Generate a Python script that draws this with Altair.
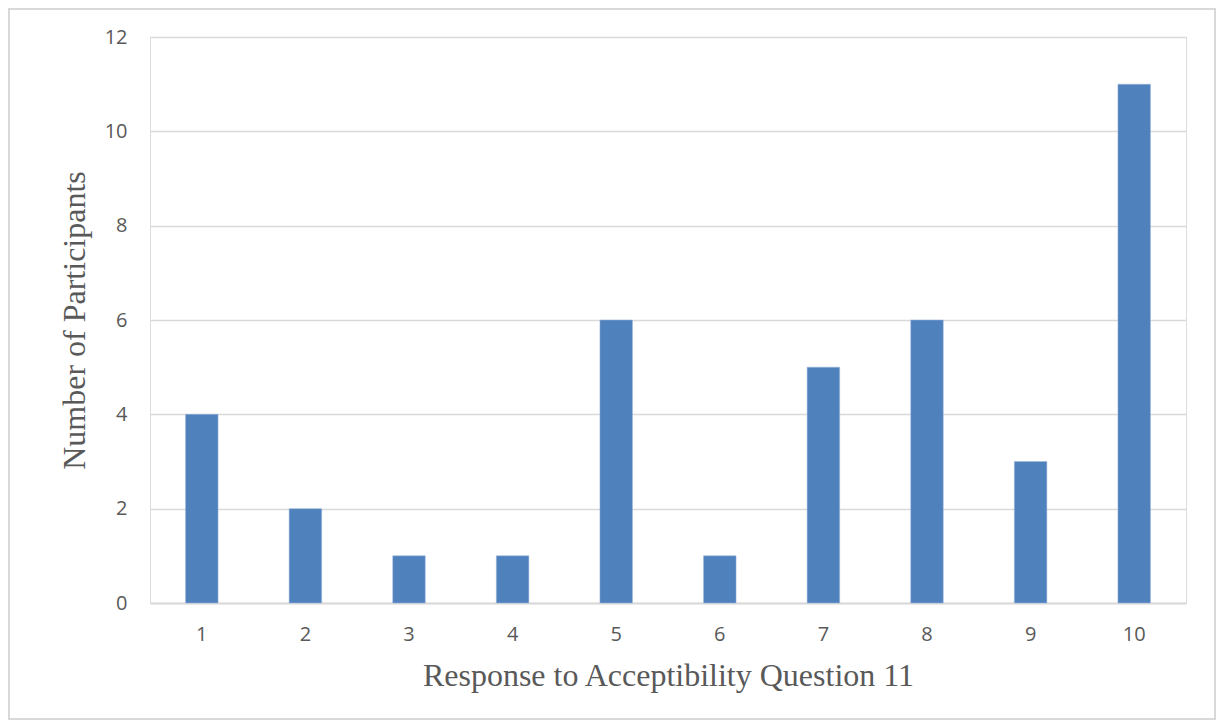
import altair as alt
import pandas as pd

responses = ["1", "2", "3", "4", "5", "6", "7", "8", "9", "10"]
participants = [4, 2, 1, 1, 6, 1, 5, 6, 3, 11]

df = pd.DataFrame({"response": responses, "count": participants})

bars = alt.Chart(df).mark_bar(color="#4f81bd", stroke="#9cb7dc", strokeWidth=0.5).encode(
    x=alt.X("response:N", sort=responses,
            scale=alt.Scale(paddingInner=0.686, paddingOuter=0.343),
            axis=alt.Axis(title="Response to Acceptibility Question 11", labelAngle=0,
                          labelFont="Open Sans", labelFontSize=20, labelColor="#595959",
                          labelPadding=21, ticks=False, domainColor="#d9d9d9", domainWidth=2,
                          titleFont="Liberation Serif", titleFontSize=32, titleFontWeight="normal",
                          titleColor="#595959", titlePadding=16)),
    y=alt.Y("count:Q", scale=alt.Scale(domain=[0, 12]),
            axis=alt.Axis(title="Number of Participants", values=[0, 2, 4, 6, 8, 10, 12],
                          labelFont="Open Sans", labelFontSize=20, labelColor="#595959",
                          labelPadding=23, ticks=False, domain=False,
                          gridColor="#d9d9d9", gridWidth=1.5,
                          titleFont="Liberation Serif", titleFontSize=32, titleFontWeight="normal",
                          titleColor="#595959", titlePadding=13)),
)

border = alt.Chart(df).mark_rect(fill=None, stroke="#d9d9d9", strokeWidth=2).encode(
    x=alt.value(-141), x2=alt.value(1065), y=alt.value(-28), y2=alt.value(682)
)

chart = alt.layer(bars, border).properties(
    width=1036, height=566,
    autosize=alt.AutoSizeParams(type="none"),
    padding={"left": 142, "top": 29, "right": 30, "bottom": 117},
).configure_view(stroke=None).configure(background="white")

chart.save("out.html", embed_options={"renderer": "svg", "actions": False})
